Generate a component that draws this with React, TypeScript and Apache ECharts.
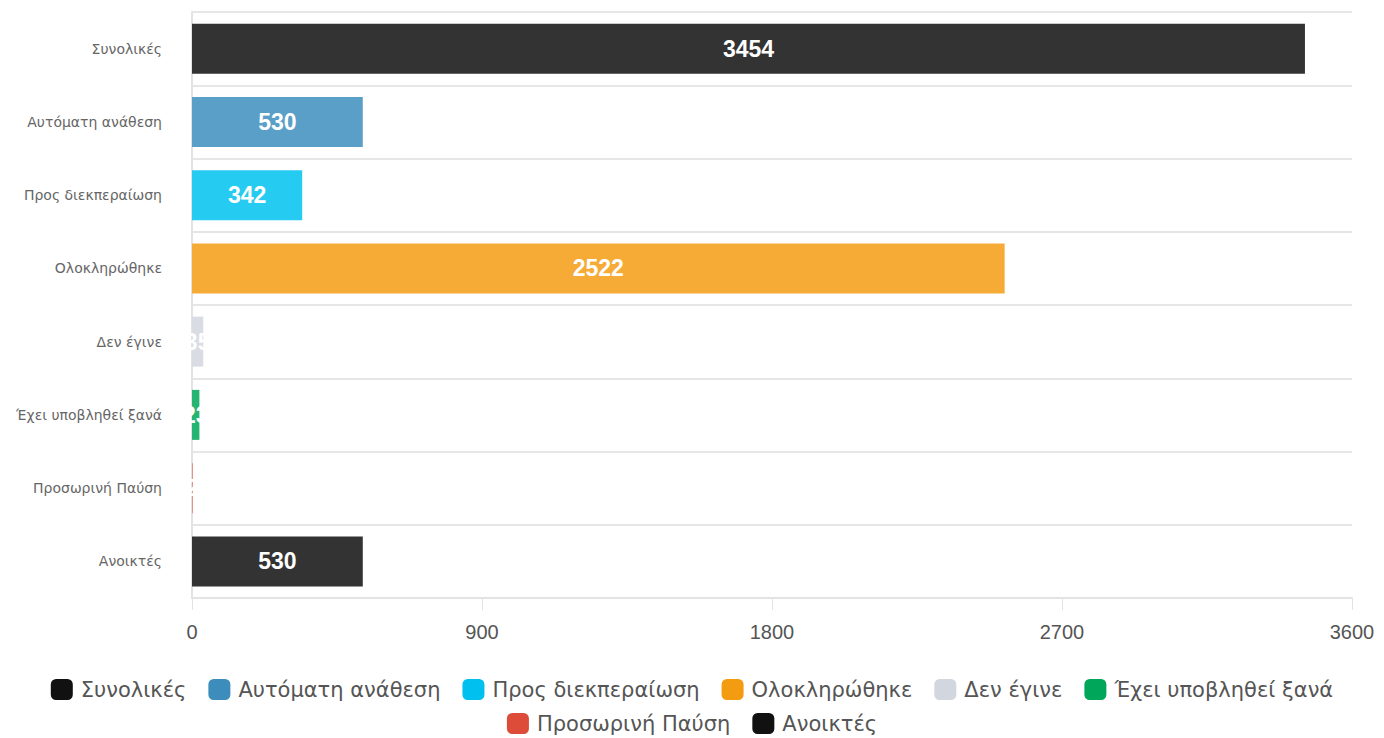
import React, { useEffect, useRef } from "react";
import * as echarts from "echarts";

const categories = [
  "Συνολικές",
  "Αυτόματη ανάθεση",
  "Προς διεκπεραίωση",
  "Ολοκληρώθηκε",
  "Δεν έγινε",
  "Έχει υποβληθεί ξανά",
  "Προσωρινή Παύση",
  "Ανοικτές",
];
const values = [3454, 530, 342, 2522, 35, 23, 2, 530];
const legendColors = ["#111111", "#3c8dbc", "#00c0ef", "#f39c12", "#d2d6de", "#00a65a", "#dd4b39", "#111111"];
const barColors = ["#333333", "#5a9fc8", "#26cbf1", "#f5ab36", "#d9dce3", "#26b473", "#e2665a", "#333333"];
const xTicks = { min: 0, max: 3600, interval: 900 };

export default function App() {
  const ref = useRef<HTMLDivElement>(null);
  useEffect(() => {
    const chart = echarts.init(ref.current!, null, { renderer: "svg" });
    const series = categories.map((name, i) => ({
      name,
      type: "bar",
      stack: "all",
      barWidth: 50,
      data: categories.map((_, j) => (j === i ? values[i] : "-")),
      itemStyle: { color: barColors[i] },
      label: {
        show: true,
        position: "inside",
        color: "#ffffff",
        fontFamily: "Liberation Sans",
        fontWeight: "bold",
        fontSize: 23,
      },
    }));
    const legendBase = {
      left: "center",
      icon: "roundRect",
      itemWidth: 22,
      itemHeight: 21,
      itemGap: 22,
      padding: 0,
      textStyle: { fontSize: 21, color: "#555", fontFamily: "DejaVu Sans", padding: [0, 0, 0, 3] },
    };
    chart.setOption({
      animation: false,
      grid: { left: 192, right: 32, top: 12, bottom: 140, containLabel: false },
      legend: [
        {
          ...legendBase,
          top: 679,
          data: categories.slice(0, 6).map((name, i) => ({ name, itemStyle: { color: legendColors[i] } })),
        },
        {
          ...legendBase,
          top: 713,
          data: categories.slice(6).map((name, i) => ({ name, itemStyle: { color: legendColors[i + 6] } })),
        },
      ],
      xAxis: {
        type: "value",
        min: xTicks.min,
        max: xTicks.max,
        interval: xTicks.interval,
        splitLine: { show: false },
        axisLine: { show: true, lineStyle: { color: "#e3e3e3", width: 2 } },
        axisTick: { show: true, length: 12, lineStyle: { color: "#e3e3e3", width: 1 } },
        axisLabel: {
          fontSize: 20,
          color: "#555",
          margin: 24,
          fontFamily: "Liberation Sans",
          formatter: (v: number) => String(v),
        },
      },
      yAxis: {
        type: "category",
        inverse: true,
        data: categories,
        axisLine: { show: true, lineStyle: { color: "#e3e3e3", width: 2 } },
        axisTick: { show: false },
        splitLine: { show: true, lineStyle: { color: "#e6e6e6", width: 2 } },
        axisLabel: { fontSize: 14, color: "#666", margin: 30, fontFamily: "DejaVu Sans" },
      },
      series,
    });
    return () => chart.dispose();
  }, []);
  return <div ref={ref} style={{ width: 1384, height: 738, position: "absolute", left: 0, top: 0 }} />;
}
